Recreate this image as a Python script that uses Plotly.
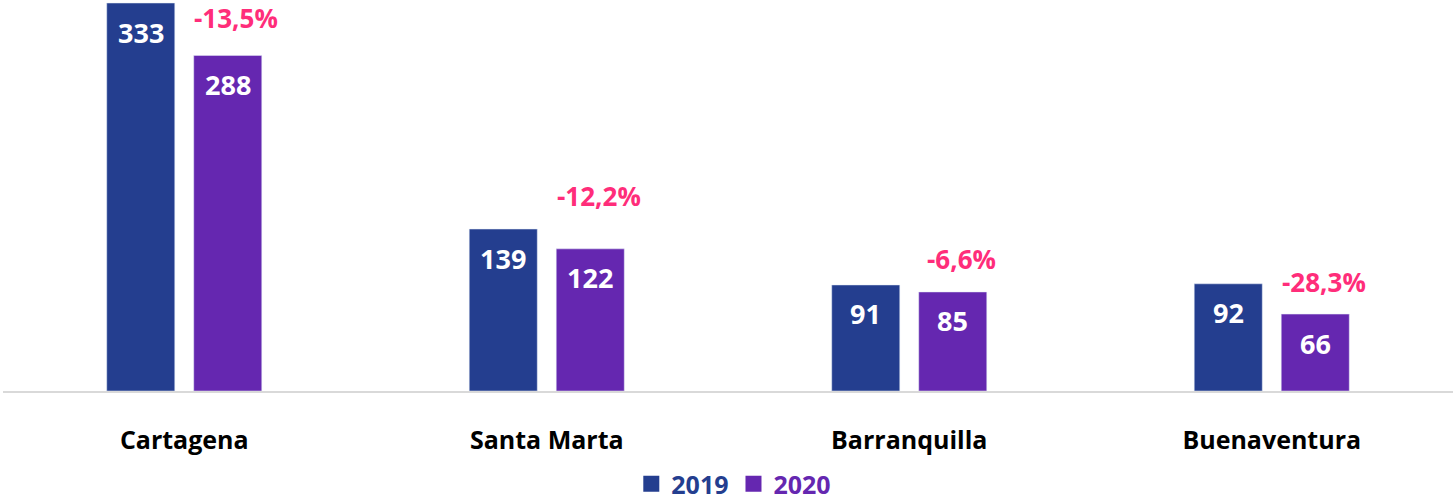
import plotly.graph_objects as go

ports = ["Cartagena", "Santa Marta", "Barranquilla", "Buenaventura"]
v2019 = [333, 139, 91, 92]
v2020 = [288, 122, 85, 66]
changes = ["-13,5%", "-12,2%", "-6,6%", "-28,3%"]
years = ["2019", "2020"]

# annotation vertical offsets (px above the 2020 bar)
change_yshift = [37, 53, 33, 32]

C19 = "#243E8F"
C20 = "#6527B0"
PINK = "#FF2D7A"
FONT = "Open Sans"
FS = 25
BAR_SLOT = 0.24  # offset between the two bars of a group, in category units

fig = go.Figure()
for vals, col, nm in [(v2019, C19, years[0]), (v2020, C20, years[1])]:
    fig.add_trace(go.Bar(
        x=ports, y=vals, name=nm, showlegend=False, marker_color=col,
        hoverinfo="x+y",
    ))
# legend entries with larger square swatches
for col, nm in [(C19, years[0]), (C20, years[1])]:
    fig.add_trace(go.Scatter(
        x=[None], y=[None], mode="markers", name=f"<span style='color:{col}'>{nm}</span>",
        marker=dict(symbol="square", size=16, color=col), showlegend=True,
    ))

# value labels inside the bars, near the top
for k, vals in enumerate([v2019, v2020]):
    for i, v in enumerate(vals):
        fig.add_annotation(
            x=i + (k - 0.5) * BAR_SLOT, y=v, text=str(v), showarrow=False,
            yanchor="middle", yshift=-29,
            font=dict(color="white", size=27, family=FONT, weight="bold"),
        )

for p, v, c, ys in zip(ports, v2020, changes, change_yshift):
    fig.add_annotation(
        x=p, y=v, text=c, showarrow=False, xshift=52, yshift=ys,
        font=dict(color=PINK, size=26, family=FONT, weight="bold"),
        xref="x", yref="y",
    )

fig.update_layout(
    width=1453, height=502,
    margin=dict(l=3, r=0, t=0, b=111, autoexpand=False),
    barmode="group", bargap=0.52, bargroupgap=0.218,
    plot_bgcolor="white", paper_bgcolor="white",
    font=dict(family=FONT),
    showlegend=True,
    legend=dict(orientation="h", x=0.504, xanchor="center", y=-0.238, yanchor="middle",
                font=dict(size=25, family=FONT, weight="bold"), itemwidth=30,
                traceorder="normal"),
    xaxis=dict(showline=True, linecolor="#D9D9D9", linewidth=2, ticks="",
               tickfont=dict(size=FS, color="black", family=FONT, weight="bold"),
               ticklabelstandoff=26, showgrid=False, automargin=False),
    yaxis=dict(visible=False, range=[0, 335.6], showgrid=False),
)

fig.write_html("out.html", config={"displayModeBar": False},
               post_script="document.body.style.margin='0';")
